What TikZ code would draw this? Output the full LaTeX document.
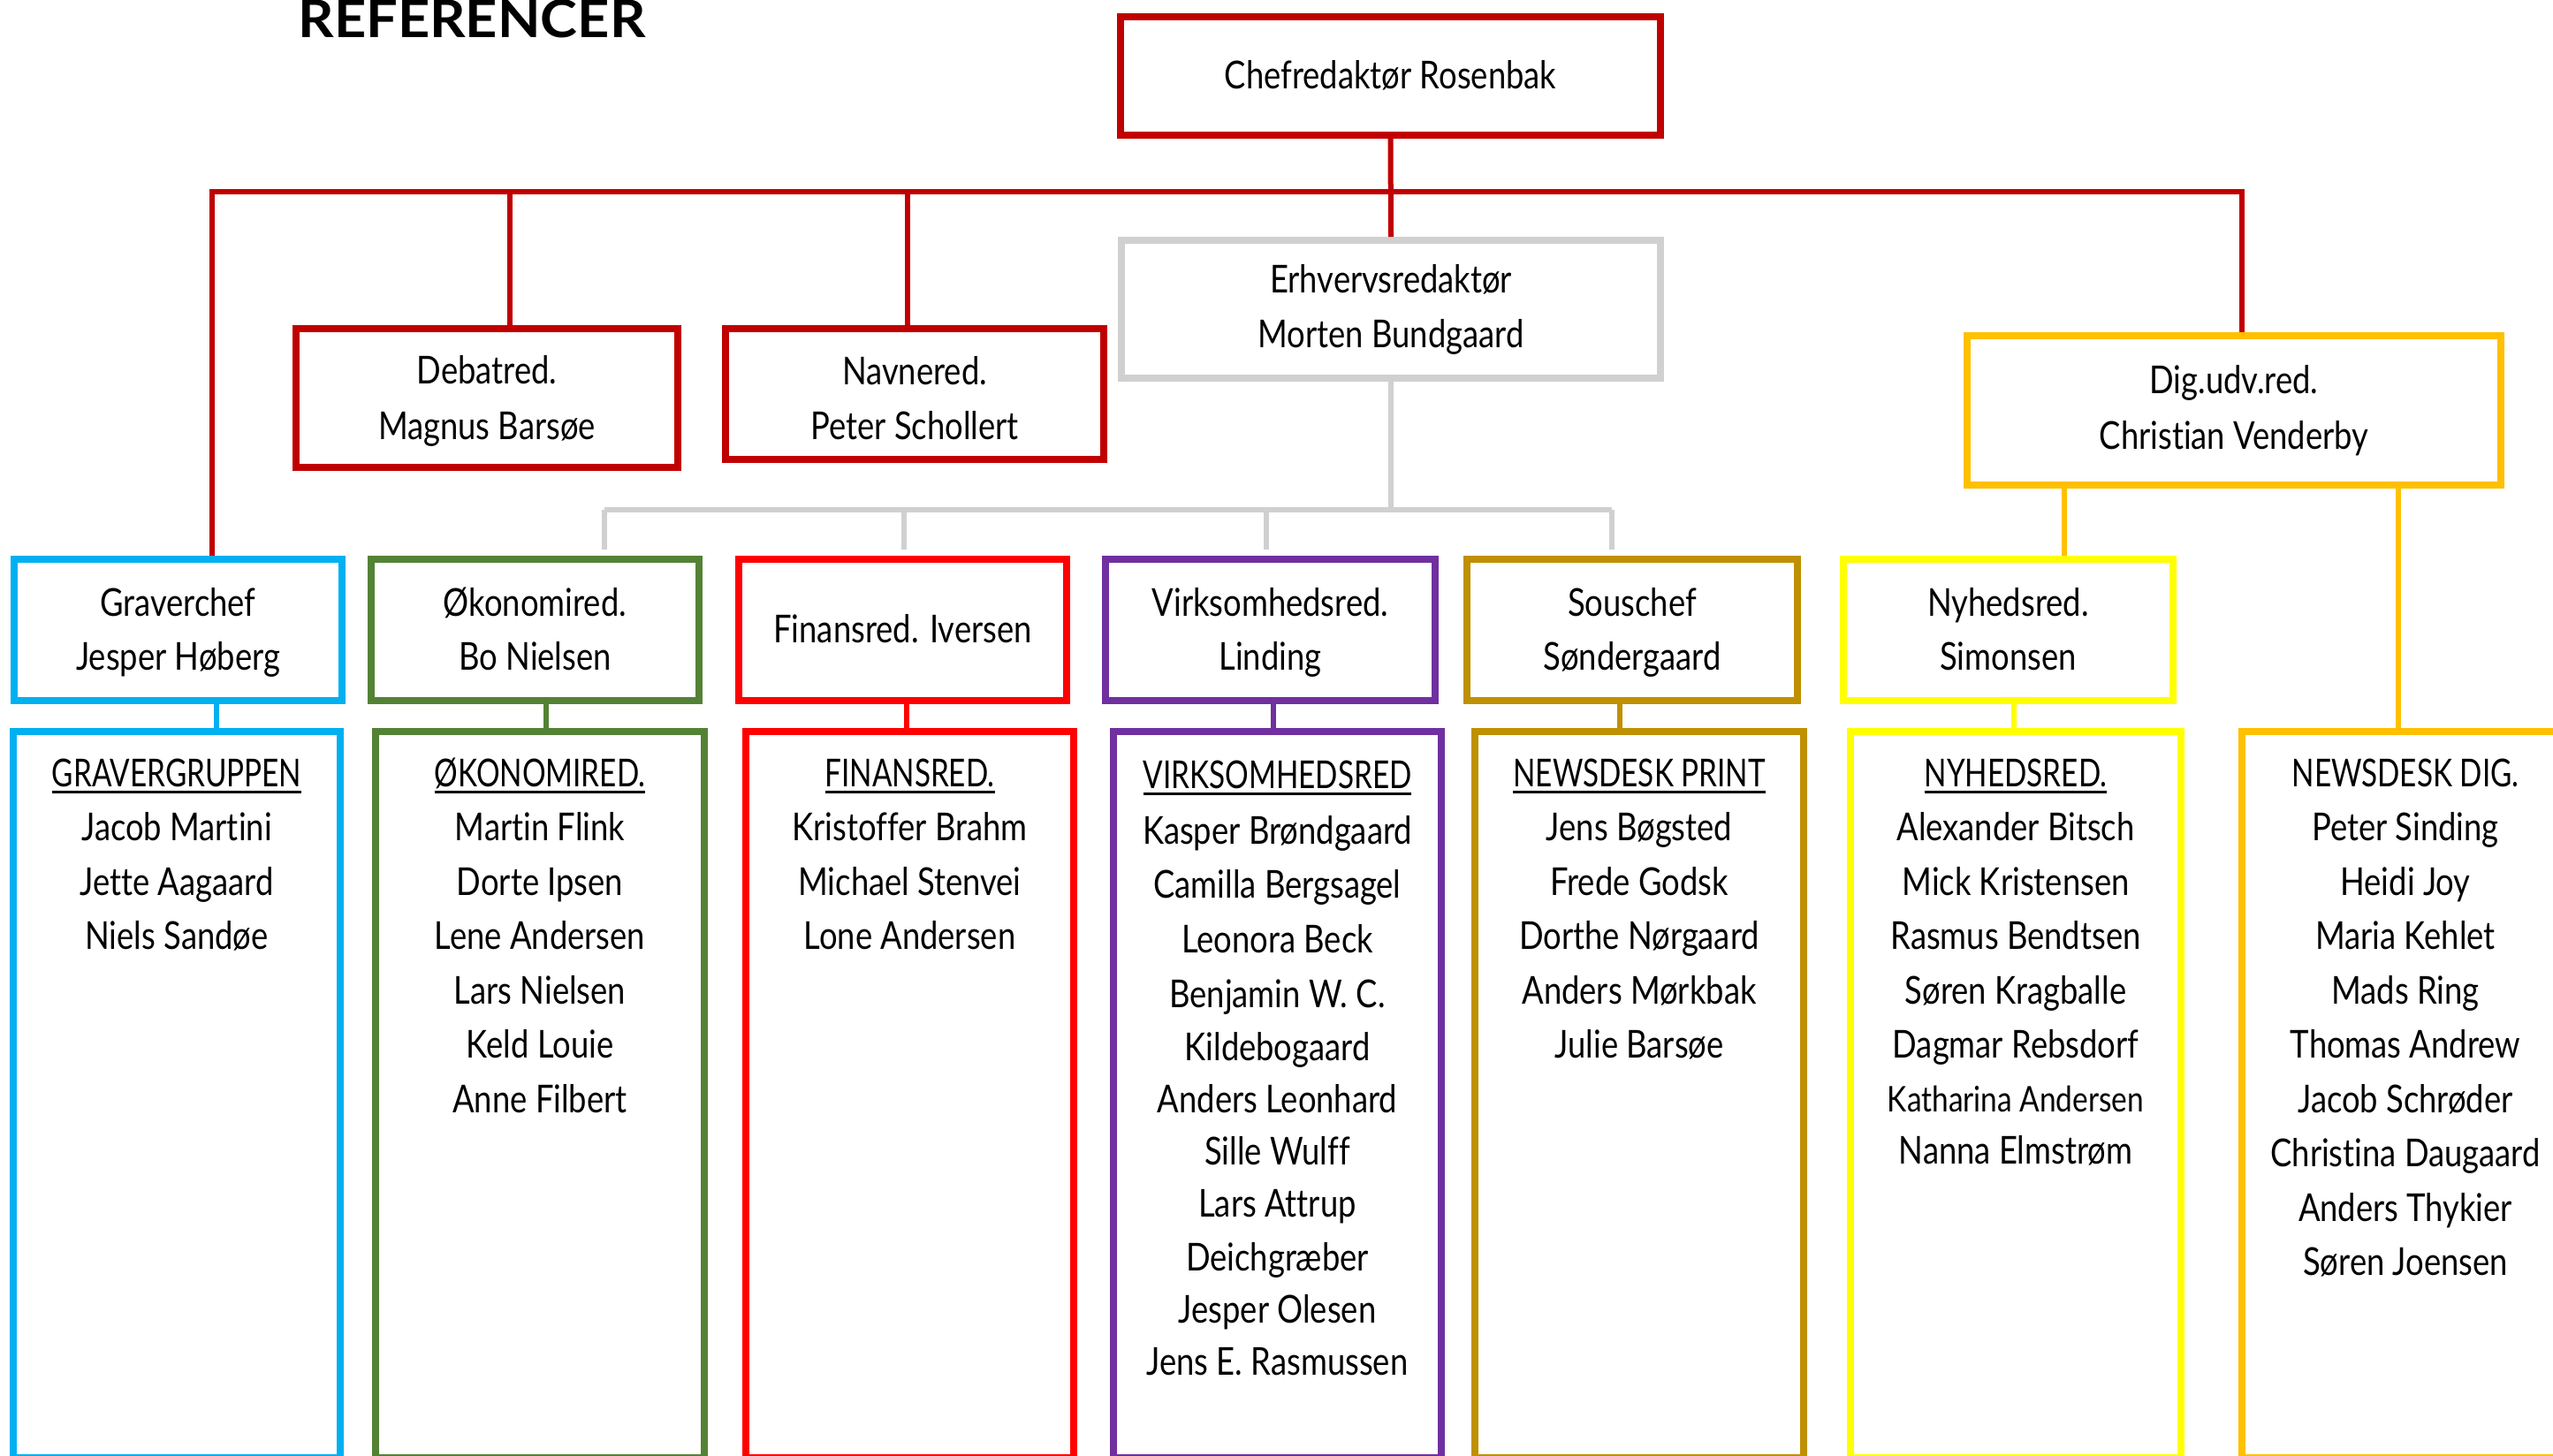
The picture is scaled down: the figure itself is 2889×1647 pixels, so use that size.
\documentclass[tikz,border=0pt]{standalone}
\usepackage{fontspec}
\newfontfamily\bodyfont{Lato}[FakeStretch=0.836, Ligatures=NoCommon]
\newfontfamily\capsfont{Lato}[FakeStretch=0.765, Ligatures=NoCommon]
\newfontfamily\heavyfont{Lato}[FakeStretch=1.07]
\definecolor{chefred}{HTML}{C00000}
\definecolor{lgray}{HTML}{D0D0D0}
\definecolor{cblue}{HTML}{00B0F0}
\definecolor{cgreen}{HTML}{548235}
\definecolor{cred}{HTML}{FF0000}
\definecolor{cpurple}{HTML}{7030A0}
\definecolor{cgold}{HTML}{BF9000}
\definecolor{cyellow}{HTML}{FFFF00}
\definecolor{corange}{HTML}{FFC000}
\newcommand\ulx[1]{\setbox0=\hbox{#1}\rlap{\vrule height -5pt depth 8pt width \wd0}\box0}
\tikzset{
  orgbox/.style={rectangle, draw=#1, line width=8pt, inner sep=0pt, fill=none},
  conn/.style={draw=#1, line width=5.5pt},
  txt/.style={anchor=base, inner sep=0pt, font=\bodyfont\fontsize{43.5}{52}\selectfont},
  captxt/.style={anchor=base, inner sep=0pt, font=\capsfont\fontsize{43.5}{52}\selectfont},
  smalltxt/.style={anchor=base, inner sep=0pt, font=\bodyfont\fontsize{40}{48}\selectfont},
}
\begin{document}
\begin{tikzpicture}[x=1pt,y=-1pt]
\useasboundingbox (0,0) rectangle (2889,1647);
\fill[white] (0,0) rectangle (2889,1647);

% title
\node[anchor=base, inner sep=0pt, font=\heavyfont\bfseries\fontsize{59}{60}\selectfont] (ref) at (534,42) {REFERENCER};

% top level boxes
\node[orgbox=chefred, minimum width=611pt, minimum height=134pt] (chef) at (1573.5,86) {};
\node[orgbox=lgray, minimum width=610pt, minimum height=156pt] (erh) at (1574,350) {};
\node[orgbox=chefred, minimum width=432pt, minimum height=157pt] (deb) at (551,450.5) {};
\node[orgbox=chefred, minimum width=428pt, minimum height=148pt] (nav) at (1035,446) {};
\node[orgbox=corange, minimum width=604pt, minimum height=169pt] (dig) at (2528,464.5) {};

% row 1 boxes
\node[orgbox=cblue, minimum width=371pt, minimum height=160pt] (grav1) at (201.5,713) {};
\node[orgbox=cgreen, minimum width=371pt, minimum height=160pt] (oko1) at (605.5,713) {};
\node[orgbox=cred, minimum width=371pt, minimum height=160pt] (fin1) at (1021.5,713) {};
\node[orgbox=cpurple, minimum width=373pt, minimum height=160pt] (virk1) at (1437.5,713) {};
\node[orgbox=cgold, minimum width=374pt, minimum height=160pt] (sous1) at (1847,713) {};
\node[orgbox=cyellow, minimum width=373pt, minimum height=160pt] (nyh1) at (2272.5,713) {};

% row 2 boxes
\node[orgbox=cblue, minimum width=370pt, minimum height=822pt] (grav2) at (200,1239) {};
\node[orgbox=cgreen, minimum width=372pt, minimum height=822pt] (oko2) at (611,1239) {};
\node[orgbox=cred, minimum width=371pt, minimum height=822pt] (fin2) at (1029.5,1239) {};
\node[orgbox=cpurple, minimum width=371pt, minimum height=822pt] (virk2) at (1445.5,1239) {};
\node[orgbox=cgold, minimum width=372pt, minimum height=822pt] (print2) at (1855,1239) {};
\node[orgbox=cyellow, minimum width=374pt, minimum height=822pt] (nyh2) at (2281,1239) {};
\node[orgbox=corange, minimum width=359pt, minimum height=822pt] (dig2) at (2716.5,1239) {};

% red connectors
\coordinate (hl) at (240,217);
\coordinate (hr) at (2537,217);
\coordinate (hd) at (577,217);
\coordinate (hn) at (1027,217);
\draw[conn=chefred, line width=6pt] (hl |- grav1.north) -- (hl) -- (hr) -- (hr |- dig.north);
\draw[conn=chefred, line width=6pt] (chef.south) -- (erh.north);
\draw[conn=chefred] (hd) -- (hd |- deb.north);
\draw[conn=chefred] (hn) -- (hn |- nav.north);

% gray connectors
\coordinate (g0) at (1574,577);
\coordinate (g1) at (684,577);
\coordinate (g2) at (1023,577);
\coordinate (g3) at (1433,577);
\coordinate (g4) at (1824,577);
\coordinate (g1e) at (684,622);
\coordinate (g2e) at (1023,622);
\coordinate (g3e) at (1433,622);
\coordinate (g4e) at (1824,622);
\draw[conn=lgray] (erh.south) -- (g0);
\draw[conn=lgray] (g1) -- (g4);
\draw[conn=lgray] (g1) -- (g1e);
\draw[conn=lgray] (g2) -- (g2e);
\draw[conn=lgray] (g3) -- (g3e);
\draw[conn=lgray] (g4) -- (g4e);

% row1 -> row2 connectors
\coordinate (k1) at (245,0);
\coordinate (k2) at (618,0);
\coordinate (k3) at (1026,0);
\coordinate (k4) at (1441,0);
\coordinate (k5) at (1833,0);
\coordinate (k6) at (2279,0);
\coordinate (k7) at (2336,0);
\coordinate (k8) at (2714,0);
\draw[conn=cblue] (k1 |- grav1.south) -- (k1 |- grav2.north);
\draw[conn=cgreen] (k2 |- oko1.south) -- (k2 |- oko2.north);
\draw[conn=cred] (k3 |- fin1.south) -- (k3 |- fin2.north);
\draw[conn=cpurple] (k4 |- virk1.south) -- (k4 |- virk2.north);
\draw[conn=cgold] (k5 |- sous1.south) -- (k5 |- print2.north);
\draw[conn=cyellow] (k6 |- nyh1.south) -- (k6 |- nyh2.north);
\draw[conn=corange] (k7 |- dig.south) -- (k7 |- nyh1.north);
\draw[conn=corange] (k8 |- dig.south) -- (k8 |- dig2.north);

% top texts
\node[txt] (chefA) at (1573.5,100) {Chefredaktør Rosenbak};
\node[txt] (erhA) at (1574,331) {Erhvervsredaktør};
\node[txt] (erhB) at (1574,393) {Morten Bundgaard};
\node[txt] (debA) at (551,434) {Debatred.};
\node[txt] (debB) at (551,497) {Magnus Barsøe};
\node[txt] (navA) at (1035,435) {Navnered.};
\node[txt] (navB) at (1035,497) {Peter Schollert};
\node[txt] (digA) at (2528,445) {Dig.udv.red.};
\node[txt] (digB) at (2528,508) {Christian Venderby};

% row1 texts
\node[txt] (gravA) at (201.5,697) {Graverchef};
\node[txt] (gravB) at (201.5,758) {Jesper Høberg};
\node[txt] (okoA) at (605.5,697) {Økonomired.};
\node[txt] (okoB) at (605.5,758) {Bo Nielsen};
\node[txt] (finA) at (1021.5,727) {Finansred. Iversen};
\node[txt] (virkA) at (1437.5,697) {Virksomhedsred.};
\node[txt] (virkB) at (1437.5,758) {Linding};
\node[txt] (sousA) at (1847,697) {Souschef};
\node[txt] (sousB) at (1847,758) {Søndergaard};
\node[txt] (nyhA) at (2272.5,697) {Nyhedsred.};
\node[txt] (nyhB) at (2272.5,758) {Simonsen};

% row2 lists
\node[captxt] (grH) at (200,890) {\ulx{GRAVERGRUPPEN}};
\foreach \nm [count=\i] in {Jacob Martini, Jette Aagaard, Niels Sandøe}
  \node[txt] (gr\i) at (200,{890+61.5*\i}) {\nm};

\node[captxt] (okH) at (611,890) {\ulx{ØKONOMIRED.}};
\foreach \nm [count=\i] in {Martin Flink, Dorte Ipsen, Lene Andersen, Lars Nielsen, Keld Louie, Anne Filbert}
  \node[txt] (ok\i) at (611,{890+61.5*\i}) {\nm};

\node[captxt] (fiH) at (1029.5,890) {\ulx{FINANSRED.}};
\foreach \nm [count=\i] in {Kristoffer Brahm, Michael Stenvei, Lone Andersen}
  \node[txt] (fi\i) at (1029.5,{890+61.5*\i}) {\nm};

\node[captxt] (viH) at (1445.5,892) {\ulx{VIRKSOMHEDSRED}};
\foreach \yy/\nm [count=\i] in {955/Kasper Brøndgaard, 1016/Camilla Bergsagel, 1078/Leonora Beck, 1140/{Benjamin W. C.}, 1200/Kildebogaard, 1259/Anders Leonhard, 1318/Sille Wulff, 1377/Lars Attrup, 1438/Deichgræber, 1497/Jesper Olesen, 1556/Jens E. Rasmussen}
  \node[txt] (vi\i) at (1445.5,\yy) {\nm};

\node[captxt] (prH) at (1855,890) {\ulx{NEWSDESK PRINT}};
\foreach \nm [count=\i] in {Jens Bøgsted, Frede Godsk, Dorthe Nørgaard, Anders Mørkbak, Julie Barsøe}
  \node[txt] (pr\i) at (1855,{890+61.5*\i}) {\nm};

\node[captxt] (nyH) at (2281,890) {\ulx{NYHEDSRED.}};
\foreach \nm [count=\i] in {Alexander Bitsch, Mick Kristensen, Rasmus Bendtsen, Søren Kragballe, Dagmar Rebsdorf}
  \node[txt] (ny\i) at (2281,{890+61.5*\i}) {\nm};
\node[smalltxt] (ny6) at (2281,1258) {Katharina Andersen};
\node[txt] (ny7) at (2281,1317) {Nanna Elmstrøm};

\node[captxt] (dgH) at (2722,890) {NEWSDESK DIG.};
\foreach \nm [count=\i] in {Peter Sinding, Heidi Joy, Maria Kehlet, Mads Ring, Thomas Andrew, Jacob Schrøder, Christina Daugaard, Anders Thykier, Søren Joensen}
  \node[txt] (dg\i) at (2722,{890+61.5*\i}) {\nm};
\end{tikzpicture}
\end{document}
